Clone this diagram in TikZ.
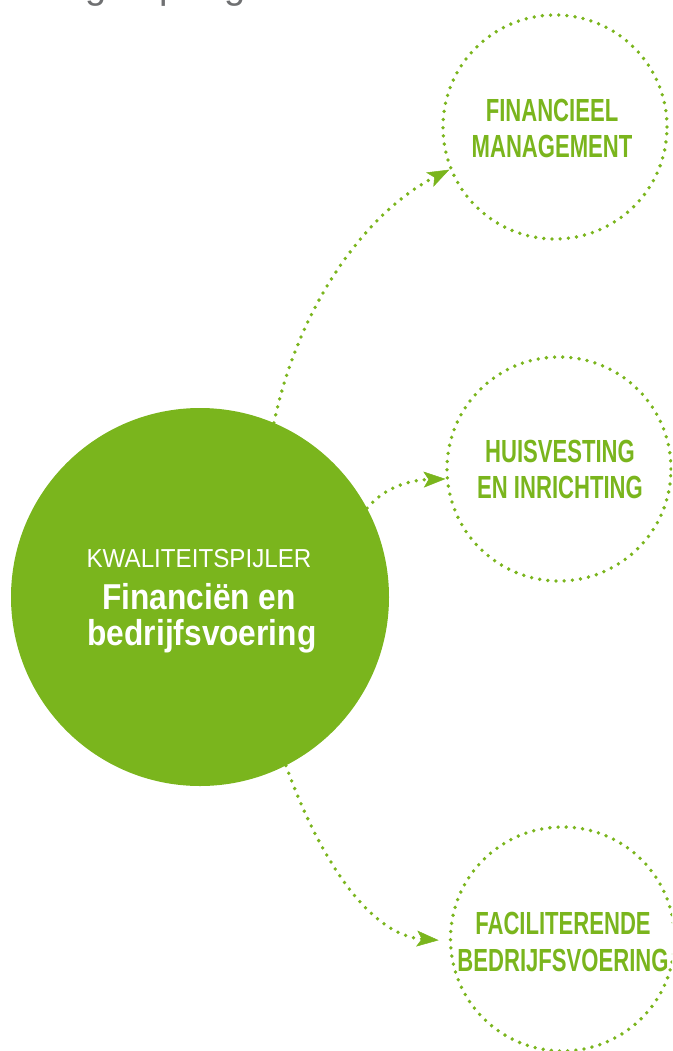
\documentclass[tikz,border=0pt]{standalone}
\usepackage{fontspec}
\setmainfont{Liberation Sans}
\newfontfamily\condbold{Liberation Sans}[FakeStretch=0.69]
\newfontfamily\mainbold{Liberation Sans}[FakeStretch=0.88]
\newfontfamily\mainlight{Liberation Sans}[FakeStretch=0.93]
\usetikzlibrary{arrows.meta}
\definecolor{kgreen}{HTML}{7AB51D}
\definecolor{titlegray}{HTML}{6F7072}
\begin{document}
\begin{tikzpicture}[x=1pt,y=-1pt,
  dots/.style={draw=kgreen, line width=3.8pt, line cap=round, dash pattern=on 0pt off 8.2pt},
  satellite/.style={circle, dots, minimum size=224pt, inner sep=0pt},
  conn/.style={dots, -{Stealth[length=22pt,width=16pt,inset=5pt,line width=0.5pt]}},
  lbl/.style={anchor=base, text=kgreen, inner sep=0pt, font=\condbold\bfseries\fontsize{32}{36}\selectfont},
  maintxt/.style={anchor=base, text=white, inner sep=0pt}
]
\useasboundingbox (0,0) rectangle (672,1051);
\clip (0,0) rectangle (672,1051);

\node[anchor=base west, inner sep=0pt, text=titlegray, font=\fontsize{38}{40}\selectfont] (title) at (-27,-1) {Indelingen per gebied};

\node[circle, fill=kgreen, minimum size=378pt, inner sep=0pt] (main) at (200,597) {};
\node[maintxt, font=\mainlight\fontsize{26}{28}\selectfont] (kw) at (199,567) {KWALITEITSPIJLER};
\node[maintxt, font=\mainbold\bfseries\fontsize{36}{38}\selectfont] (fin1) at (199,609) {Financiën en};
\node[maintxt, font=\mainbold\bfseries\fontsize{36}{38}\selectfont] (fin2) at (202,645) {bedrijfsvoering};

\node[satellite] (fm) at (555,127) {};
\node[satellite] (hv) at (559,469) {};
\node[satellite] (fb) at (562.5,939) {};

\node[lbl] (fm1) at (552,122) {FINANCIEEL};
\node[lbl] (fm2) at (552,158) {MANAGEMENT};
\node[lbl] (hv1) at (560,462) {HUISVESTING};
\node[lbl] (hv2) at (560,498) {EN INRICHTING};
\node[lbl] (fb1) at (563,934) {FACILITERENDE};
\node[lbl] (fb2) at (563,971) {BEDRIJFSVOERING};

\draw[conn] (main.67) .. controls (300,300) and (370,210) .. (fm.202);
\draw[conn] (main.28) .. controls (385,487) and (410,480) .. (hv.185);
\draw[conn, shorten >=10pt] (main.-63) .. controls (320,860) and (370,935) .. (fb.181);
\end{tikzpicture}
\end{document}
